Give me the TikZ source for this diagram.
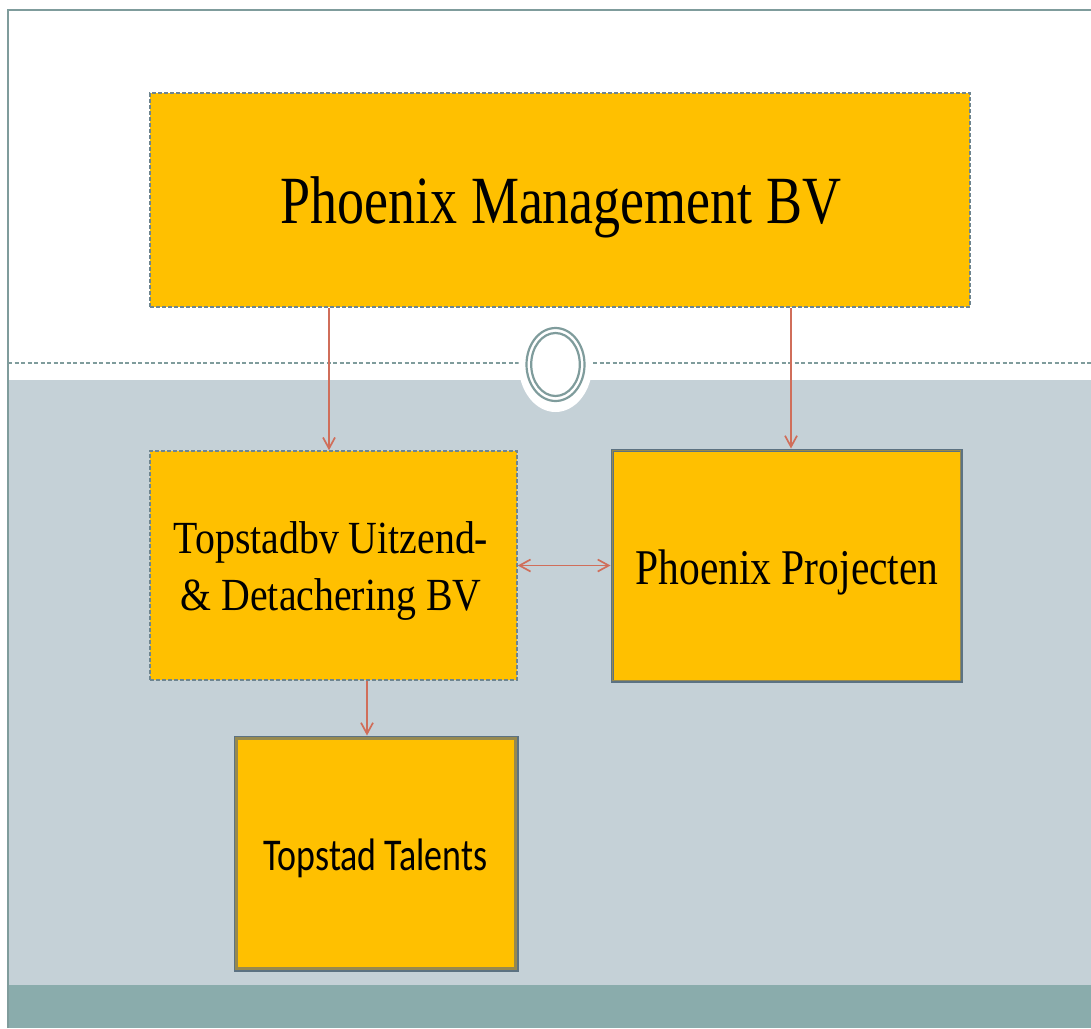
\documentclass[tikz,border=0pt]{standalone}
\usepackage{fontspec}
\setmainfont{Liberation Serif}
\newfontfamily\pmfont[FakeStretch=0.80]{Liberation Serif}
\newfontfamily\tbfont[FakeStretch=0.865]{Liberation Serif}
\newfontfamily\ppfont[FakeStretch=0.83]{Liberation Serif}
\newfontfamily\ttfontx[FakeStretch=0.79]{Carlito}
\usetikzlibrary{arrows.meta}
\definecolor{gold}{HTML}{FFC000}
\definecolor{bandgray}{HTML}{C5D1D7}
\definecolor{bandteal}{HTML}{8AACAC}
\definecolor{framec}{HTML}{7F9C9C}
\definecolor{dashc}{HTML}{6E8590}
\definecolor{borderc}{HTML}{5C7282}
\definecolor{olivec}{HTML}{97894F}
\definecolor{arrowc}{HTML}{D06E5A}
\tikzset{
  dbox/.style={rectangle, inner sep=0pt, fill=gold, draw=dashc, dash pattern=on 4pt off 2pt, line width=1.5pt},
  sbox/.style={rectangle, inner sep=0pt, fill=gold, draw=borderc, line width=3pt},
  conn/.style={draw=arrowc, line width=1.7pt, -{Straight Barb[length=11pt,width=12pt]}},
  dconn/.style={draw=arrowc, line width=1.7pt, {Straight Barb[length=11pt,width=12pt]}-{Straight Barb[length=11pt,width=12pt]}},
  txt/.style={anchor=base, inner sep=0pt, text=black}
}
\begin{document}
\begin{tikzpicture}[x=1pt,y=-1pt]
\useasboundingbox (0,0) rectangle (1091,1028);
\fill[white] (0,0) rectangle (1091,1028);
% background bands
\fill[bandgray] (8,380) rectangle (1091,985);
\fill[bandteal] (8,985) rectangle (1091,1028);
\draw[framec, line width=2pt] (8,1028) -- (8,10) -- (1091,10);
% dashed divider
\draw[framec, line width=1.5pt, dash pattern=on 4pt off 2.5pt] (8,363) -- (1091,363);
% medallion
\fill[white] (555.5,364) ellipse [x radius=37pt, y radius=48pt];
\draw[framec, line width=2.2pt] (555.5,364.5) ellipse [x radius=29pt, y radius=36.5pt];
\draw[framec, line width=2.2pt] (555.5,364.5) ellipse [x radius=24.3pt, y radius=31.5pt];
% boxes
\node[dbox, minimum width=820pt, minimum height=214pt] (pm) at (560,200) {};
\node[dbox, minimum width=367pt, minimum height=229pt] (tb) at (333.5,565.5) {};
\node[sbox, minimum width=349pt, minimum height=231pt] (pp) at (786.5,565.5) {};
\node[sbox, minimum width=282pt, minimum height=233pt] (tt) at (376,853.5) {};
\draw[olivec, line width=1.2pt] ([shift={(2.3,2.3)}]pp.north west) rectangle ([shift={(-2.3,-2.3)}]pp.south east);
\draw[olivec, line width=3pt] ([shift={(3.2,3.2)}]tt.north west) rectangle ([shift={(-3.2,-3.2)}]tt.south east);
% texts
\node[txt, font=\pmfont\fontsize{67.5pt}{70pt}\selectfont] (tpm) at (561,223) {Phoenix Management BV};
\node[txt, font=\tbfont\fontsize{46pt}{50pt}\selectfont] (ttb1) at (331,553) {Topstadbv Uitzend-};
\node[txt, font=\tbfont\fontsize{46pt}{50pt}\selectfont] (ttb2) at (331,610) {\& Detachering BV};
\node[txt, font=\ppfont\fontsize{50pt}{54pt}\selectfont] (tpp) at (787,584) {Phoenix Projecten};
\node[txt, font=\ttfontx\fontsize{45.5pt}{50pt}\selectfont] (ttt) at (375.5,870) {Topstad Talents};
% connectors
\draw[conn] ([xshift=-4.5pt]tb.north |- pm.south) -- ([xshift=-4.5pt]tb.north);
\draw[conn] ([xshift=4.5pt]pp.north |- pm.south) -- ([xshift=4.5pt]pp.north);
\draw[dconn] (tb.east) -- (pp.west);
\draw[conn] ([xshift=-9pt]tt.north |- tb.south) -- ([xshift=-9pt]tt.north);
\end{tikzpicture}
\end{document}
